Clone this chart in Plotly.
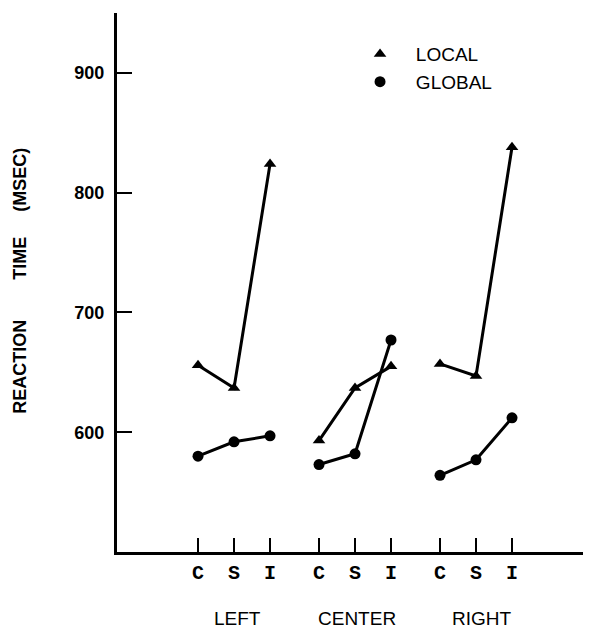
import plotly.graph_objects as go

groups = ["LEFT", "CENTER", "RIGHT"]
conditions = ["C", "S", "I"]
local_rt = [[656, 637, 824], [593, 637, 655], [657, 647, 838]]
global_rt = [[580, 592, 597], [573, 582, 677], [564, 577, 612]]
y_ticks = [600, 700, 800, 900]

group_offsets = [0, 3.36, 6.72]
group_label_pos = [1.1, 4.42, 7.89]

fig = go.Figure()

xs, yl, yg = [], [], []
for gi, off in enumerate(group_offsets):
    for ci in range(len(conditions)):
        xs.append(off + ci)
        yl.append(local_rt[gi][ci])
        yg.append(global_rt[gi][ci])
    xs.append(None)
    yl.append(None)
    yg.append(None)

fig.add_trace(go.Scatter(x=xs, y=yl, mode="lines+markers", showlegend=False,
                         line=dict(color="black", width=3),
                         marker=dict(symbol="triangle-up", size=11, color="black")))
fig.add_trace(go.Scatter(x=xs, y=yg, mode="lines+markers", showlegend=False,
                         line=dict(color="black", width=3),
                         marker=dict(symbol="circle", size=11, color="black")))
# legend-only entries
fig.add_trace(go.Scatter(x=[None], y=[None], mode="markers", name="\u00a0\u00a0\u00a0LOCAL", legendgroup="a",
                         marker=dict(symbol="triangle-up", size=11, color="black")))
fig.add_trace(go.Scatter(x=[None], y=[None], mode="markers", name="\u00a0\u00a0\u00a0GLOBAL", legendgroup="b",
                         marker=dict(symbol="circle", size=11, color="black")))

tickvals = [off + ci for off in group_offsets for ci in range(len(conditions))]
ticktext = [c for _ in group_offsets for c in conditions]

fig.update_xaxes(range=[-2.25, 10.83], showgrid=False, zeroline=False,
                 showline=True, linecolor="black", linewidth=3,
                 ticks="inside", ticklen=14, tickwidth=2, tickcolor="black",
                 tickvals=tickvals, ticktext=ticktext, ticklabelstandoff=0,
                 tickfont=dict(family="Liberation Mono", size=20, color="black", weight="bold"))
fig.update_yaxes(range=[500, 950], showgrid=False, zeroline=False,
                 showline=True, linecolor="black", linewidth=3,
                 ticks="inside", ticklen=15, tickwidth=2, tickcolor="black",
                 tickvals=y_ticks, ticklabelstandoff=6,
                 tickfont=dict(family="Liberation Sans", size=18, color="black", weight="bold"))

for gi, g in enumerate(groups):
    fig.add_annotation(x=group_label_pos[gi], y=-0.1225, xref="x", yref="paper",
                       text=g, showarrow=False, yanchor="middle", xanchor="center",
                       font=dict(family="Liberation Sans", size=19, color="black"))

fig.add_annotation(x=-0.206, y=0.503, xref="paper", yref="paper",
                   text="REACTION" + "\u00a0" * 8 + "TIME" + "\u00a0" * 5 + "(MSEC)",
                   textangle=-90, showarrow=False, xanchor="center", yanchor="middle",
                   font=dict(family="Liberation Sans", size=18, color="black", weight="bold"))

fig.update_layout(
    width=583, height=620,
    margin=dict(l=109, r=3, t=5, b=76),
    plot_bgcolor="white", paper_bgcolor="white",
    legend=dict(x=0.516, y=0.959, xanchor="left", yanchor="top",
                font=dict(family="Liberation Sans", size=19, color="black"),
                bgcolor="rgba(0,0,0,0)", tracegroupgap=0, traceorder="grouped"),
)

fig.write_html("out.html")
